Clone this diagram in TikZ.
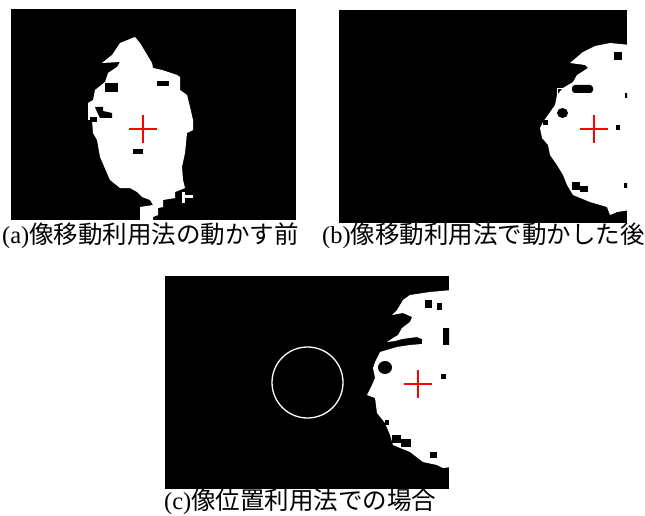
\documentclass[tikz,border=0pt]{standalone}
\usepackage{fontspec}
\setmainfont{Liberation Serif}
\newfontfamily\cjk{Noto Sans CJK JP}
\begin{document}
\begin{tikzpicture}[x=1pt,y=-1pt,
  panel/.style={fill=black},
  blob/.style={fill=white},
  hole/.style={fill=black},
  crossmark/.style={draw=red,line width=1.5pt},
  caption/.style={anchor=west,inner sep=0pt,font=\fontsize{24.5}{28}\selectfont}]
\useasboundingbox[fill=white] (0,0) rectangle (645,516);
% ---------- panel (a)
\fill[panel] (11,9) rectangle (296,220);
\begin{scope}
\clip (11,9) rectangle (296,220);
\fill[blob] (135,37) -- (140,43) -- (152,63) -- (153,68) -- (162,70) -- (177,75) -- (180,77) -- (180,90) -- (187,95) -- (190,107) -- (193,120) -- (193,130) -- (187,133) -- (185,153) -- (182,167) -- (183,180) -- (185,188) -- (175,192) -- (175,198) -- (163,200) -- (163,207) -- (158,208) -- (158,215) -- (153,217) -- (153,222) -- (140,222) -- (140,207) -- (153,205) -- (150,200) -- (142,197) -- (137,192) -- (130,188) -- (120,188) -- (110,180) -- (100,157) -- (97,140) -- (93,133) -- (92,120) -- (88,120) -- (88,103) -- (93,100) -- (95,90) -- (105,82) -- (108,73) -- (117,67) -- (120,62) -- (102,63) -- (112,55) -- (120,43) -- cycle;
\fill[blob] (182,192) rectangle (185,203);
\fill[blob] (182,195) rectangle (193,198);
\fill[hole] (105,83) rectangle (118,92);
\fill[hole] (157,81) rectangle (169,86);
\fill[hole] (95,107) -- (103,107) -- (103,111) -- (112,113) -- (112,118) -- (100,118) -- (97,112) -- cycle;
\fill[hole] (90,117) rectangle (97,122);
\fill[hole] (133,149) rectangle (143,154);
\end{scope}
\draw[crossmark] (129,129) -- (157,129) (143,115) -- (143,143);
% ---------- panel (b)
\fill[panel] (339,10) rectangle (627,223);
\begin{scope}
\clip (339,10) rectangle (627,223);
\fill[blob] (630,45) -- (610,43) -- (595,46) -- (583,52) -- (570,63) -- (585,65) -- (588,68) -- (577,75) -- (573,82) -- (563,88) -- (557,95) -- (555,105) -- (548,115) -- (543,122) -- (540,128) -- (542,138) -- (548,145) -- (550,155) -- (557,165) -- (563,175) -- (567,185) -- (573,195) -- (590,202) -- (607,207) -- (610,215) -- (617,212) -- (630,210) -- cycle;
\fill[hole,rounded corners=3pt] (572,85) rectangle (593,93);
\fill[hole] (562.5,113) ellipse (5.5 and 5);
\fill[hole] (614,52) rectangle (622,60);
\fill[hole] (625,93) rectangle (628,98);
\fill[hole] (616,125) rectangle (620,130);
\fill[hole] (572,182) rectangle (580,190);
\fill[hole] (580,186) rectangle (588,192);
\fill[hole] (543,120) rectangle (548,125);
\fill[hole] (624,183) rectangle (628,188);
\draw[white,line width=0.8pt] (557,88) rectangle (562,95);
\end{scope}
\draw[crossmark] (580,129) -- (608,129) (594,115) -- (594,143);
% ---------- panel (c)
\fill[panel] (165,276) rectangle (449,489);
\begin{scope}
\clip (165,276) rectangle (449,489);
\fill[blob] (452,290) -- (430,292) -- (410,295) -- (403,300) -- (397,310) -- (392,315) -- (403,313) -- (412,317) -- (410,322) -- (402,328) -- (398,335) -- (393,338) -- (387,342) -- (395,341) -- (402,339) -- (417,337) -- (422,339) -- (422,344) -- (410,345) -- (397,347) -- (380,352) -- (375,362) -- (373,368) -- (375,378) -- (372,385) -- (367,395) -- (375,398) -- (377,413) -- (385,423) -- (390,435) -- (393,445) -- (410,452) -- (423,462) -- (437,465) -- (443,468) -- (452,467) -- cycle;
\fill[hole] (425,300) rectangle (432,308);
\fill[hole] (437,303) rectangle (442,310);
\fill[hole] (443,328) rectangle (450,345);
\fill[hole] (385,367.5) ellipse (7 and 6.5);
\fill[hole] (441,374) rectangle (446,379);
\fill[hole] (392,435) rectangle (401,443);
\fill[hole] (401,439) rectangle (411,447);
\fill[hole] (430,452) rectangle (437,458);
\fill[hole] (385,420) rectangle (389,425);
\end{scope}
\draw[white,line width=1.3pt] (307.5,382.5) circle (35.5);
\draw[crossmark] (404,384) -- (432,384) (418,370) -- (418,398);
% ---------- captions
\node[caption] (capa) at (2,236) {(a){\cjk 像移動利用法の動かす前}};
\node[caption] (capb) at (322,236) {(b){\cjk 像移動利用法で動かした後}};
\node[caption] (capc) at (164,502) {(c){\cjk 像位置利用法での場合}};
\end{tikzpicture}
\end{document}
